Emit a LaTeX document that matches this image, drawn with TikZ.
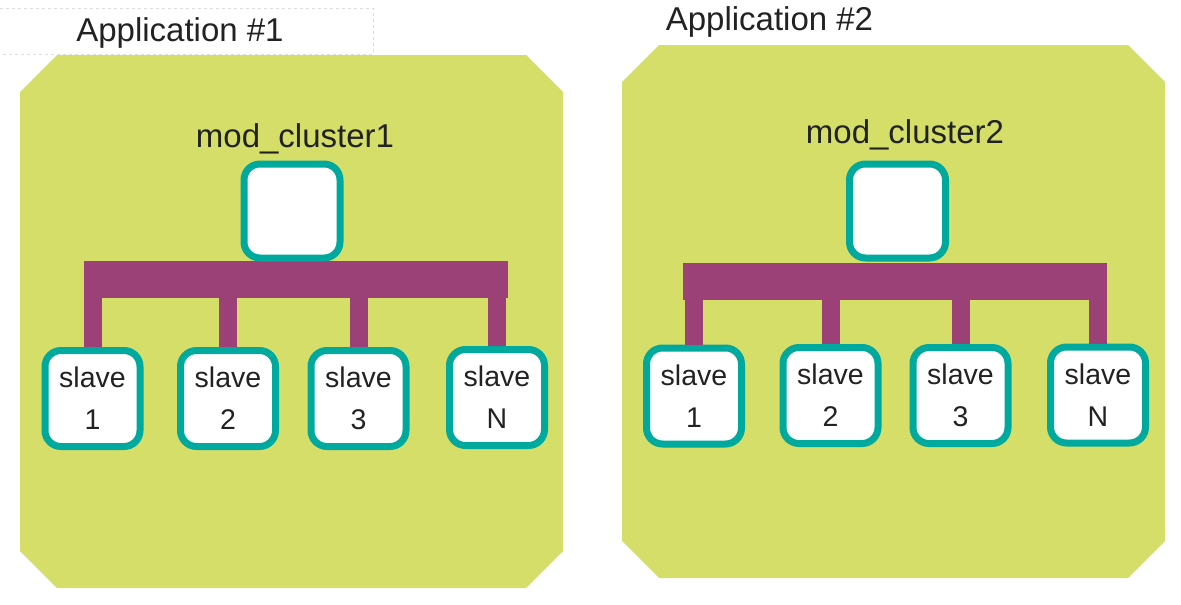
\documentclass[tikz,border=0pt]{standalone}
\usepackage{fontspec}
\setmainfont{Liberation Sans}
\definecolor{appgreen}{HTML}{D4DE69}
\definecolor{busplum}{HTML}{9C4178}
\definecolor{nodeteal}{HTML}{00A99D}
\definecolor{textgray}{HTML}{222222}
\definecolor{framegray}{HTML}{DDDDDD}

\begin{document}
\begin{tikzpicture}[x=1pt, y=-1pt,
  apptitle/.style={text=textgray, font=\fontsize{33}{40}\selectfont, anchor=base, inner sep=0pt},
  masterbox/.style={draw=nodeteal, line width=7pt, fill=white, rounded corners=16pt, minimum width=96pt, minimum height=94pt, inner sep=0pt},
  slavebox/.style={draw=nodeteal, line width=7pt, fill=white, rounded corners=16pt, minimum width=95pt, minimum height=96pt, inner sep=0pt, align=center, text=textgray, font=\fontsize{28.5}{42}\selectfont},
  busbar/.style={fill=busplum, inner sep=0pt, minimum width=424pt, minimum height=37pt},
  drop/.style={draw=busplum, line width=18pt}]

\useasboundingbox (0,0) rectangle (1181,605);

% application areas
\fill[appgreen] (20,92) -- (57,55) -- (526,55) -- (563,92) -- (563,551) -- (526,588) -- (57,588) -- (20,551) -- cycle;
\fill[appgreen] (622,82) -- (659,45) -- (1128,45) -- (1165,82) -- (1165,541) -- (1128,578) -- (659,578) -- (622,541) -- cycle;
\draw[framegray, dashed, line width=0.8pt] (0,8) -- (373,8) -- (373,54) -- (0,54);

\node[apptitle] (title1) at (180,41) {Application \#1};
\node[apptitle] (title2) at (769.5,30) {Application \#2};

% application 1
\node[apptitle] (mc1) at (295,147) {mod\_cluster1};
\node[busbar] (bus1) at (296,279.5) {};
\node[masterbox] (m1) at (292,211) {};
\node[slavebox] (a1) at (92.5,398.5) {slave\\1};
\node[slavebox] (a2) at (228,398.5) {slave\\2};
\node[slavebox] (a3) at (358.5,398.5) {slave\\3};
\node[slavebox] (aN) at (497,397.5) {slave\\N};

% application 2
\node[apptitle] (mc2) at (905,143) {mod\_cluster2};
\node[busbar] (bus2) at (895,281) {};
\node[masterbox] (m2) at (897.5,211) {};
\node[slavebox] (b1) at (694,396) {slave\\1};
\node[slavebox] (b2) at (830.5,395.5) {slave\\2};
\node[slavebox] (b3) at (960.5,395.5) {slave\\3};
\node[slavebox] (bN) at (1098,395) {slave\\N};

\foreach \s in {a1,a2,a3,aN}
  \draw[drop] (\s.north |- bus1.center) -- (\s.north);
\foreach \s in {b1,b2,b3,bN}
  \draw[drop] (\s.north |- bus2.center) -- (\s.north);
\end{tikzpicture}
\end{document}
